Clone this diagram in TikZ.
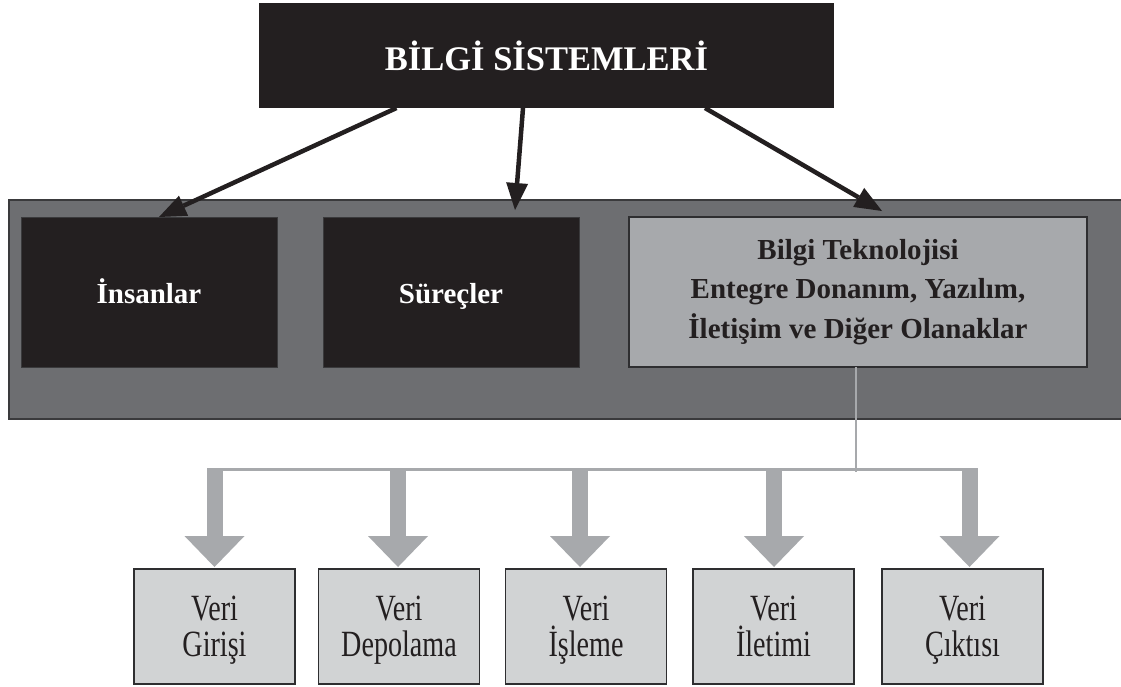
\documentclass[tikz,border=0pt]{standalone}
\usepackage{fontspec}
\setmainfont{Liberation Serif}
\newfontfamily\condserif[FakeStretch=0.76]{Liberation Serif}
\usetikzlibrary{arrows.meta}
\definecolor{inkblack}{HTML}{231F20}
\definecolor{panelgray}{HTML}{6D6E71}
\definecolor{panelline}{HTML}{3A3A3C}
\definecolor{midgray}{HTML}{A7A9AC}
\definecolor{lightgray}{HTML}{D1D3D4}
\definecolor{boxline}{HTML}{2E2E30}
\tikzset{
  titlebox/.style={fill=inkblack, draw=none, minimum width=575pt, minimum height=105pt,
    inner sep=0pt, outer sep=0pt, text=white, font=\bfseries\fontsize{34.5}{40}\selectfont},
  panelbox/.style={fill=panelgray, draw=panelline, line width=1.5pt, minimum width=1116pt,
    minimum height=219pt, inner sep=0pt, outer sep=0pt},
  darkbox/.style={fill=inkblack, draw=panelline, line width=1pt, minimum width=256pt,
    minimum height=150pt, inner sep=0pt, outer sep=0pt, text=white,
    text height=29pt, text depth=7pt,
    font=\bfseries\fontsize{29}{36}\selectfont},
  techbox/.style={fill=midgray, draw=boxline, line width=1.5pt, minimum width=458pt,
    minimum height=150pt, inner sep=0pt, outer sep=0pt, text=inkblack, align=center,
    font=\bfseries\fontsize{29}{39.5}\selectfont},
  databox/.style={fill=lightgray, draw=boxline, line width=1.2pt, minimum width=161pt,
    minimum height=115pt, inner sep=0pt, outer sep=0pt},
  datatext/.style={inner sep=0pt, outer sep=0pt, text=inkblack, align=center,
    font=\condserif\fontsize{37}{36}\selectfont},
  blkarrow/.style={draw=inkblack, line width=4.5pt,
    -{Triangle[length=27pt,width=22pt,line width=0pt]}},
  grayarrow/.style={draw=midgray, line width=16pt,
    -{Triangle[length=31pt,width=60pt,line width=0pt]}, shorten >=2pt},
  graybar/.style={draw=midgray, line width=3.5pt},
  grayline/.style={draw=midgray, line width=2.5pt}
}
\begin{document}
\begin{tikzpicture}[x=1pt,y=-1pt]
\useasboundingbox[fill=white] (0,0) rectangle (1121,686);

\node[titlebox] (top) at (546.5,55.5) {BİLGİ SİSTEMLERİ};

\node[panelbox] (panel) at (567,309.5) {};
\node[darkbox] (ins) at (149,292) {İnsanlar};
\node[darkbox] (sur) at (451,292) {Süreçler};
\node[techbox] (bt) at (858,292) {Bilgi Teknolojisi\\Entegre Donanım, Yazılım,\\İletişim ve Diğer Olanaklar};

\draw[blkarrow] ([xshift=-150pt]top.south) -- ([xshift=10pt]ins.north);
\draw[blkarrow] ([xshift=-23.5pt]top.south) -- ([xshift=64pt,yshift=7pt]sur.north);
\draw[blkarrow] ([xshift=158.5pt]top.south) -- ([xshift=24pt,yshift=6pt]bt.north);

\node[databox] (b1) at (214.5,626.5) {};
\node[databox] (b2) at (399,626.5) {};
\node[databox] (b3) at (586,626.5) {};
\node[databox] (b4) at (773.5,626.5) {};
\node[databox] (b5) at (962.5,626.5) {};
\node[datatext] (t1) at ([yshift=-5pt]b1.center) {Veri\\Girişi\strut};
\node[datatext] (t2) at ([yshift=-5pt]b2.center) {Veri\\Depolama\strut};
\node[datatext] (t3) at ([yshift=-5pt]b3.center) {Veri\\İşleme\strut};
\node[datatext] (t4) at ([yshift=-5pt]b4.center) {Veri\\İletimi\strut};
\node[datatext] (t5) at ([yshift=-5pt]b5.center) {Veri\\Çıktısı\strut};

\coordinate (barL) at (207,469.5);
\coordinate (barR) at (977.5,469.5);
\draw[grayline] ([xshift=-2pt]bt.south) -- ++(0,105) coordinate (drop);
\draw[graybar] (barL) -- (barR);

\coordinate (a1) at (214.5,468);
\coordinate (a2) at (398,468);
\coordinate (a3) at (580,468);
\coordinate (a4) at (774,468);
\coordinate (a5) at (969.5,468);
\draw[grayarrow] (a1) -- (a1 |- b1.north);
\draw[grayarrow] (a2) -- (a2 |- b2.north);
\draw[grayarrow] (a3) -- (a3 |- b3.north);
\draw[grayarrow] (a4) -- (a4 |- b4.north);
\draw[grayarrow] (a5) -- (a5 |- b5.north);
\end{tikzpicture}
\end{document}
